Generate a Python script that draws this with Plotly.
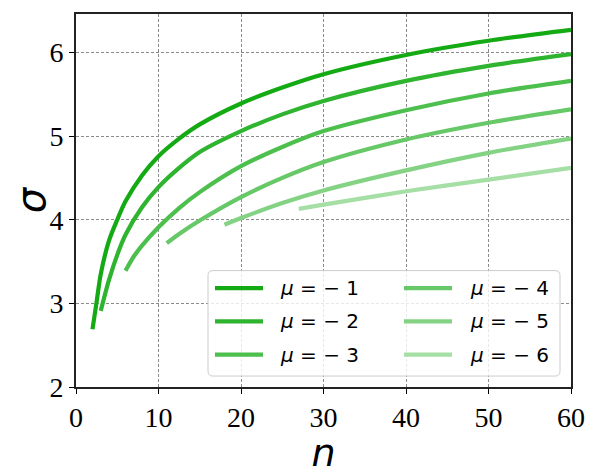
import plotly.graph_objects as go

# ---- data ----
mu_labels = ["μ = − 1", "μ = − 2", "μ = − 3", "μ = − 4", "μ = − 5", "μ = − 6"]

n_mu1 = [2, 2.5, 3, 4, 5, 6, 8, 10, 12.5, 15, 20, 25, 30, 40, 50, 60]
s_mu1 = [2.69, 3.02, 3.35, 3.75, 4.00, 4.22, 4.53, 4.76, 4.97, 5.14, 5.39, 5.58, 5.74, 5.97, 6.14, 6.27]

n_mu2 = [3, 4, 5, 6, 8, 10, 12.5, 15, 20, 25, 30, 40, 50, 60]
s_mu2 = [2.91, 3.28, 3.58, 3.82, 4.15, 4.39, 4.62, 4.81, 5.06, 5.26, 5.42, 5.66, 5.84, 5.98]

n_mu3 = [6, 7, 8, 10, 12.5, 15, 20, 25, 30, 40, 50, 60]
s_mu3 = [3.39, 3.56, 3.69, 3.91, 4.14, 4.33, 4.64, 4.87, 5.06, 5.31, 5.51, 5.66]

n_mu4 = [11, 12.5, 15, 20, 25, 30, 40, 50, 60]
s_mu4 = [3.72, 3.83, 3.99, 4.27, 4.50, 4.69, 4.96, 5.16, 5.32]

n_mu5 = [18, 20, 25, 30, 40, 50, 60]
s_mu5 = [3.94, 4.02, 4.20, 4.35, 4.59, 4.80, 4.97]

n_mu6 = [27, 30, 40, 50, 60]
s_mu6 = [4.13, 4.18, 4.34, 4.48, 4.62]

x_ticks = [0, 10, 20, 30, 40, 50, 60]
y_ticks = [2, 3, 4, 5, 6]

colors = ["#14aa14", "#2eb42e", "#4cbf4c", "#66c866", "#84d384", "#a6dfa6"]

series = [(n_mu1, s_mu1), (n_mu2, s_mu2), (n_mu3, s_mu3),
          (n_mu4, s_mu4), (n_mu5, s_mu5), (n_mu6, s_mu6)]

# the page body adds an 8px margin, so the figure is 8px smaller than the window
OFF = 8
W, H = 598 - OFF, 475 - OFF
L, R, T, B = 76 - OFF, 27, 12 - OFF, 88

fig = go.Figure()
for (nx, sy), col, lab in zip(series, colors, mu_labels):
    fig.add_trace(go.Scatter(x=nx, y=sy, mode="lines", name=lab,
                             line=dict(color=col, width=4.2, shape="spline", smoothing=0.8),
                             showlegend=False))

# ---- manual legend (2 columns, column-major); positions in window pixels ----
def px2paper_x(px):
    return (px - OFF - L) / (W - L - R)

def px2paper_y(py):
    return (H - B - (py - OFF)) / (H - T - B)

bx0, bx1, by0, by1, rad = 208, 560, 270, 376, 5
rx = rad / (W - L - R)
ry = rad / (H - T - B)
X0, X1 = px2paper_x(bx0), px2paper_x(bx1)
Y0, Y1 = px2paper_y(by1), px2paper_y(by0)
path = (f"M{X0+rx},{Y0} L{X1-rx},{Y0} Q{X1},{Y0} {X1},{Y0+ry} "
        f"L{X1},{Y1-ry} Q{X1},{Y1} {X1-rx},{Y1} L{X0+rx},{Y1} "
        f"Q{X0},{Y1} {X0},{Y1-ry} L{X0},{Y0+ry} Q{X0},{Y0} {X0+rx},{Y0} Z")
fig.add_shape(type="path", path=path, xref="paper", yref="paper",
              fillcolor="rgba(255,255,255,0.8)", line=dict(color="#cccccc", width=1),
              layer="above")

row_y = [287.5, 321, 354.5]
col_sw = [(215, 263, 278), (404, 452, 468)]
for i, (lab, col) in enumerate(zip(mu_labels, colors)):
    c, r = divmod(i, 3)
    sx0, sx1, tx = col_sw[c]
    yy = px2paper_y(row_y[r])
    fig.add_shape(type="line", xref="paper", yref="paper",
                  x0=px2paper_x(sx0), x1=px2paper_x(sx1), y0=yy, y1=yy,
                  line=dict(color=col, width=4.2), layer="above")
    txt = "<i>μ</i>" + lab[1:]
    fig.add_annotation(x=px2paper_x(tx), y=yy, xref="paper", yref="paper",
                       text=txt, showarrow=False, xanchor="left", yanchor="middle",
                       font=dict(family="DejaVu Sans", size=20, color="black"))

axis_common = dict(
    showgrid=True, gridcolor="#8a8a8a", gridwidth=0.8, griddash="3px,2px",
    showline=True, linecolor="#222222", linewidth=1.6, mirror=True,
    ticks="outside", ticklen=5, tickwidth=1, tickcolor="black",
    tickfont=dict(family="Liberation Serif", size=28, color="black"),
    zeroline=False,
)

fig.update_layout(
    width=W, height=H,
    margin=dict(l=L, r=R, t=T, b=B),
    paper_bgcolor="white", plot_bgcolor="white",
    xaxis=dict(range=[0, 60], tickvals=x_ticks, ticktext=[str(v) for v in x_ticks],
               title=dict(text="<i>n</i>", font=dict(family="DejaVu Sans", size=38, color="black"),
                          standoff=6),
               **axis_common),
    yaxis=dict(range=[2, 6.46], tickvals=y_ticks, ticktext=[str(v) for v in y_ticks],
               title=dict(text="<i>σ</i>", font=dict(family="DejaVu Sans", size=40, color="black"),
                          standoff=6),
               **axis_common),
)

fig.write_html("out.html")
